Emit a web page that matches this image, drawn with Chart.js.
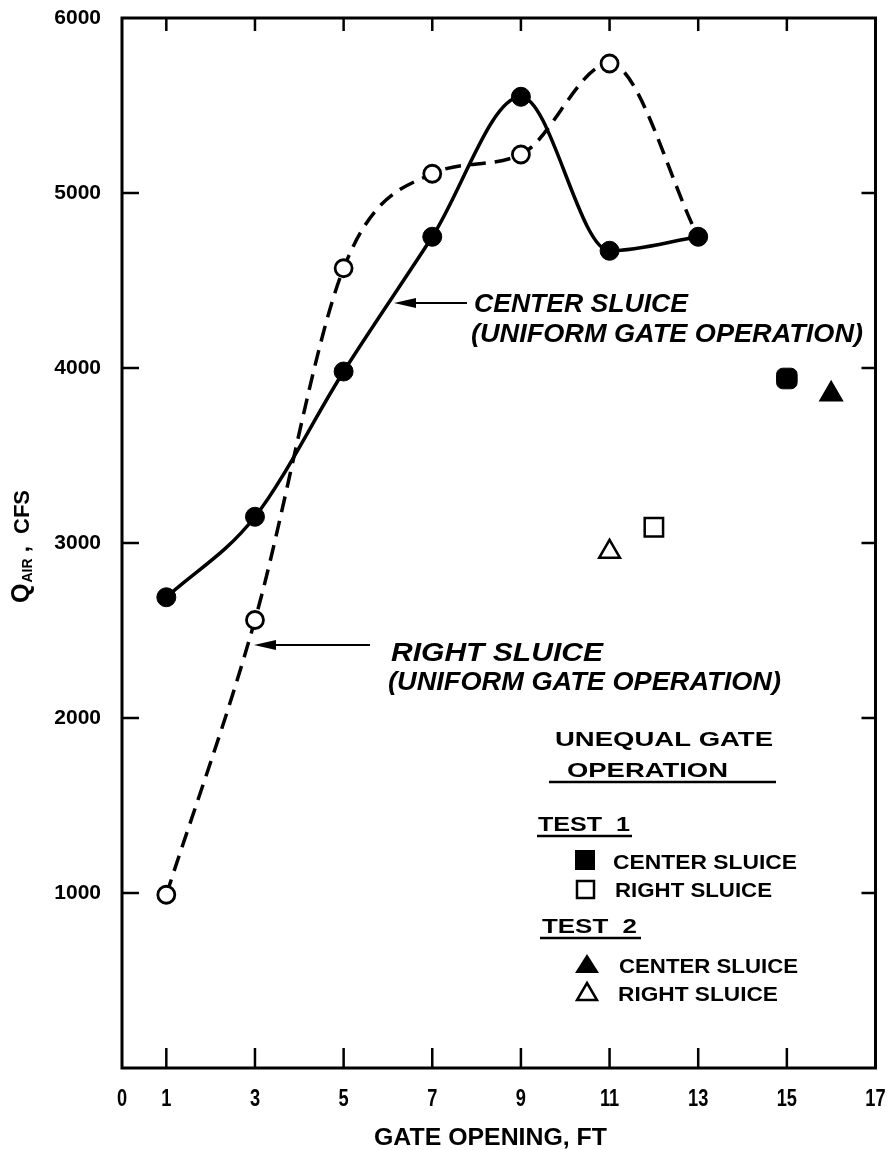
<!DOCTYPE html>
<html>
<head>
<meta charset="utf-8">
<script src="https://cdn.jsdelivr.net/npm/chart.js@4.4.0/dist/chart.umd.min.js"></script>
<style>
  html, body { margin: 0; padding: 0; background: #fff; }
</style>
</head>
<body>
<canvas id="airChart" width="891" height="1150"></canvas>
<script>
// data
const gateOpening = [1, 3, 5, 7, 9, 11, 13];
const centerSluice = [2690, 3150, 3980, 4750, 5550, 4670, 4750];
const rightSluice = [990, 2560, 4570, 5110, 5220, 5740, 4750];
// unequal gate operation: [center sluice, right sluice]
const test1Gate = [15, 12];
const test1Qair = [3940, 3090];
const test2Gate = [16, 11];
const test2Qair = [3850, 2950];

const xTicks = [0, 1, 3, 5, 7, 9, 11, 13, 15, 17];
const yTicks = [1000, 2000, 3000, 4000, 5000, 6000];
const xInnerTicks = [1, 3, 5, 7, 9, 11, 13, 15];
const yInnerTicks = [1000, 2000, 3000, 4000, 5000];

const BOLD = '"Liberation Sans", Arial, sans-serif';

function pts(xs, ys) {
    return xs.map((x, i) => ({ x: x, y: ys[i] }));
}

// draws text squeezed/stretched to a given width
function fitText(ctx, text, x, baseline, width, font) {
    ctx.save();
    ctx.font = font;
    const w = ctx.measureText(text).width;
    ctx.translate(x, baseline);
    ctx.scale(width / w, 1);
    ctx.textAlign = 'left';
    ctx.textBaseline = 'alphabetic';
    ctx.fillText(text, 0, 0);
    ctx.restore();
}

function arrowLeft(ctx, x1, x2, y) {
    ctx.beginPath();
    ctx.moveTo(x1, y);
    ctx.lineTo(x2 + 10, y);
    ctx.lineWidth = 2;
    ctx.stroke();
    ctx.beginPath();
    ctx.moveTo(x2, y);
    ctx.lineTo(x2 + 22, y - 5);
    ctx.lineTo(x2 + 22, y + 5);
    ctx.closePath();
    ctx.fill();
}

const framePlugin = {
    id: 'frame',
    beforeDatasetsDraw(chart) {
        const { ctx, chartArea: a, scales: { x, y } } = chart;
        ctx.save();
        ctx.strokeStyle = '#000';
        ctx.lineWidth = 3;
        ctx.strokeRect(a.left, a.top, a.right - a.left, a.bottom - a.top);
        ctx.lineWidth = 2.5;
        ctx.beginPath();
        xInnerTicks.forEach(v => {
            const px = x.getPixelForValue(v);
            ctx.moveTo(px, a.bottom);
            ctx.lineTo(px, a.bottom - 20);
            ctx.moveTo(px, a.top);
            ctx.lineTo(px, a.top + 13);
        });
        yInnerTicks.forEach(v => {
            const py = y.getPixelForValue(v);
            ctx.moveTo(a.left, py);
            ctx.lineTo(a.left + 17, py);
            ctx.moveTo(a.right, py);
            ctx.lineTo(a.right - 14, py);
        });
        ctx.stroke();

        // condensed x tick labels
        ctx.fillStyle = '#000';
        ctx.font = 'bold 24px ' + BOLD;
        xTicks.forEach(v => {
            const px = x.getPixelForValue(v);
            const label = String(v);
            const w = ctx.measureText(label).width;
            ctx.save();
            ctx.translate(px, a.bottom + 38);
            ctx.scale(0.76, 1);
            ctx.fillText(label, -w / 2, 0);
            ctx.restore();
        });
        ctx.restore();
    },
    afterDraw(chart) {
        const ctx = chart.ctx;
        ctx.save();
        ctx.fillStyle = '#000';
        ctx.strokeStyle = '#000';

        // y axis title with subscript
        ctx.save();
        ctx.translate(29, 603);
        ctx.rotate(-Math.PI / 2);
        ctx.font = 'bold 25px ' + BOLD;
        ctx.fillText('Q', 0, 0);
        let off = ctx.measureText('Q').width + 1;
        ctx.font = 'bold 14px ' + BOLD;
        ctx.fillText('AIR', off, 3);
        off += ctx.measureText('AIR').width;
        ctx.font = 'bold 22px ' + BOLD;
        ctx.fillText(' ,  CFS', off, 0);
        ctx.restore();

        // x axis title
        fitText(ctx, 'GATE OPENING, FT', 374, 1145, 233, 'bold 23px ' + BOLD);

        // curve labels
        const ital = 'italic bold 26px ' + BOLD;
        arrowLeft(ctx, 467, 394, 303);
        fitText(ctx, 'CENTER SLUICE', 474, 312, 214, ital);
        fitText(ctx, '(UNIFORM GATE OPERATION)', 471, 342, 392, ital);
        arrowLeft(ctx, 370, 254, 645);
        fitText(ctx, 'RIGHT SLUICE', 391, 661, 212, ital);
        fitText(ctx, '(UNIFORM GATE OPERATION)', 388, 690, 393, ital);

        // unequal gate operation key
        const key = 'bold 21px ' + BOLD;
        fitText(ctx, 'UNEQUAL GATE', 555, 746, 218, key);
        fitText(ctx, 'OPERATION', 567, 777, 161, key);
        ctx.lineWidth = 2.5;
        ctx.beginPath();
        ctx.moveTo(549, 782); ctx.lineTo(776, 782);
        ctx.moveTo(537, 836); ctx.lineTo(632, 836);
        ctx.moveTo(540, 938); ctx.lineTo(641, 938);
        ctx.stroke();
        fitText(ctx, 'TEST  1', 538, 831, 92, key);
        fitText(ctx, 'TEST  2', 542, 933, 95, key);
        const item = 'bold 20px ' + BOLD;
        fitText(ctx, 'CENTER SLUICE', 613, 869, 184, item);
        fitText(ctx, 'RIGHT SLUICE', 615, 897, 157, item);
        fitText(ctx, 'CENTER SLUICE', 619, 973, 179, item);
        fitText(ctx, 'RIGHT SLUICE', 618, 1001, 160, item);

        // key symbols
        ctx.fillRect(575, 850, 20, 20);
        ctx.lineWidth = 2.5;
        ctx.strokeRect(577, 881, 17, 17);
        ctx.beginPath();
        ctx.moveTo(587, 954); ctx.lineTo(599, 973); ctx.lineTo(575, 973);
        ctx.closePath(); ctx.fill();
        ctx.beginPath();
        ctx.moveTo(587, 983); ctx.lineTo(597, 1000); ctx.lineTo(577, 1000);
        ctx.closePath(); ctx.stroke();
        ctx.restore();
    }
};

const ctx = document.getElementById('airChart').getContext('2d');
new Chart(ctx, {
    type: 'scatter',
    data: {
        datasets: [
            {
                label: 'Test 1 center sluice',
                data: pts(test1Gate.slice(0, 1), test1Qair.slice(0, 1)),
                pointStyle: 'rectRounded',
                pointRadius: 12,
                backgroundColor: '#000',
                borderColor: '#000',
                borderWidth: 1,
                order: 0
            },
            {
                label: 'Test 1 right sluice',
                data: pts(test1Gate.slice(1), test1Qair.slice(1)),
                pointStyle: 'rect',
                pointRadius: 13,
                backgroundColor: '#fff',
                borderColor: '#000',
                borderWidth: 2.5,
                order: 0
            },
            {
                label: 'Test 2 center sluice',
                data: pts(test2Gate.slice(0, 1), test2Qair.slice(0, 1)),
                pointStyle: 'triangle',
                pointRadius: 13,
                backgroundColor: '#000',
                borderColor: '#000',
                borderWidth: 1.5,
                order: 0
            },
            {
                label: 'Test 2 right sluice',
                data: pts(test2Gate.slice(1), test2Qair.slice(1)),
                pointStyle: 'triangle',
                pointRadius: 12,
                backgroundColor: '#fff',
                borderColor: '#000',
                borderWidth: 2.5,
                order: 0
            },
            {
                label: 'Center sluice (uniform gate operation)',
                data: pts(gateOpening, centerSluice),
                showLine: true,
                cubicInterpolationMode: 'monotone',
                borderColor: '#000',
                borderWidth: 3.5,
                pointRadius: 9.5,
                pointBackgroundColor: '#000',
                pointBorderColor: '#000',
                pointBorderWidth: 1,
                order: 1
            },
            {
                label: 'Right sluice (uniform gate operation)',
                data: pts(gateOpening, rightSluice),
                showLine: true,
                cubicInterpolationMode: 'monotone',
                borderColor: '#000',
                borderWidth: 3.5,
                borderDash: [16, 9],
                pointRadius: [8.5, 8.5, 8.5, 8.5, 8.5, 8.5, 0],
                pointBackgroundColor: '#fff',
                pointBorderColor: '#000',
                pointBorderWidth: 2.8,
                order: 2
            }
        ]
    },
    options: {
        responsive: false,
        animation: false,
        layout: { padding: { top: 18, right: 0, left: 0, bottom: 0 } },
        plugins: {
            legend: { display: false },
            tooltip: { enabled: false }
        },
        scales: {
            x: {
                type: 'linear',
                min: 0,
                max: 17,
                afterBuildTicks: s => { s.ticks = xTicks.map(v => ({ value: v })); },
                afterFit: s => { s.height = 82; s.paddingLeft = 0; s.paddingRight = 0; },
                grid: { display: false, drawTicks: false },
                border: { display: false },
                ticks: { display: false }
            },
            y: {
                min: 0,
                max: 6000,
                afterBuildTicks: s => { s.ticks = yTicks.map(v => ({ value: v })); },
                afterFit: s => { s.width = 122; s.paddingTop = 0; s.paddingBottom = 0; },
                grid: { display: false, drawTicks: false },
                border: { display: false },
                ticks: {
                    color: '#000',
                    padding: 21,
                    font: { family: BOLD, weight: 'bold', size: 21 },
                    callback: v => String(v)
                }
            }
        }
    },
    plugins: [framePlugin]
});
</script>
</body>
</html>
